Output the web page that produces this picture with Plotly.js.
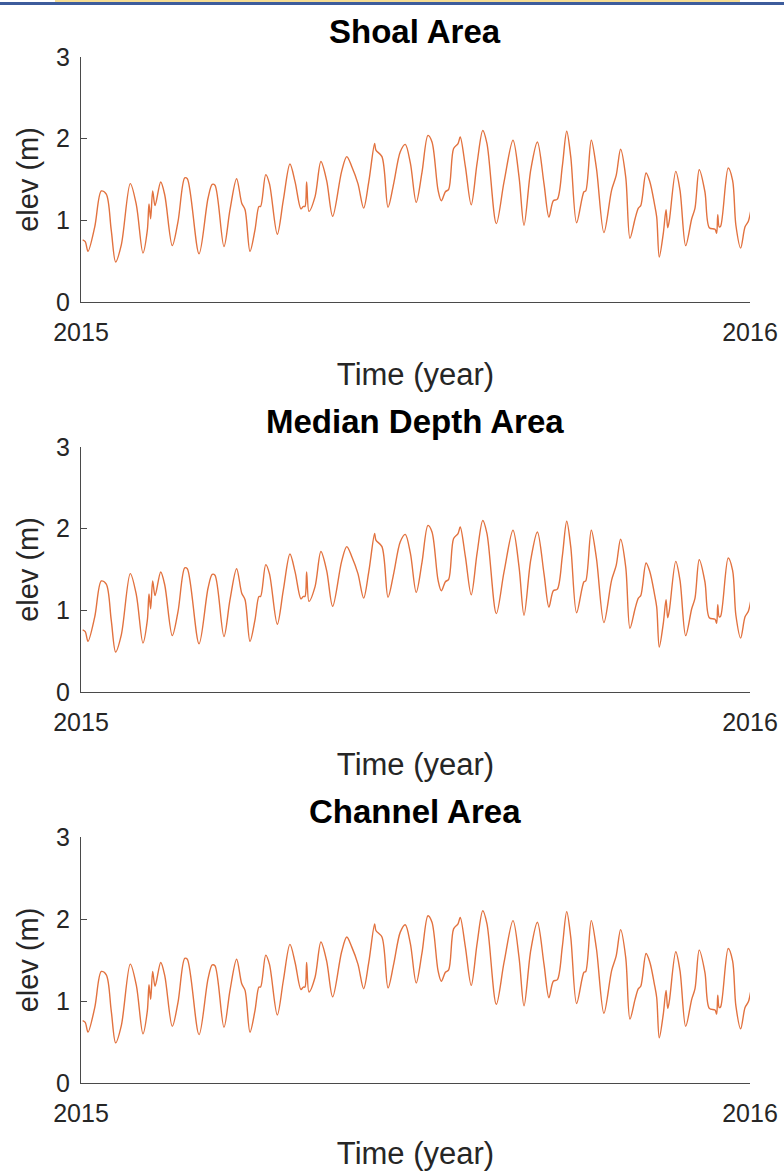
<!DOCTYPE html>
<html>
<head>
<meta charset="utf-8">
<script src="https://cdn.plot.ly/plotly-3.0.1.min.js"></script>
<style>
  html, body { margin: 0; padding: 0; background: #ffffff; }
  #chart { width: 784px; height: 1171px; }
  #topbar { position: absolute; left: 0; top: 0; width: 784px; height: 5px; pointer-events: none; }
  #topbar .y { position: absolute; left: 55px; top: 0; width: 685px; height: 2px; background: #f7dd92; }
  #topbar .b { position: absolute; left: 0; top: 2px; width: 784px; height: 3px; background: #3d5c9c; }
</style>
</head>
<body>
<div id="chart"></div>
<div id="topbar"><div class="y"></div><div class="b"></div></div>
<script>
// Panel titles and axis labels
const panelTitles = ['Shoal Area', 'Median Depth Area', 'Channel Area'];
const xTickVals = [2015, 2016];
const xTickText = ['2015', '2016'];
const yTickVals = [0, 1, 2, 3];

// Day of year (from 2015-01-01)
const days = [0.9, 2.3, 3.8, 7.5, 11.1, 13.8, 16.5, 18.9, 22.0, 26.9, 30.2, 33.8, 36.2, 37.1, 38.0, 39.1, 40.4,
  43.5, 45.7, 49.8, 52.9, 56.6, 58.0, 64.4, 69.3, 71.6, 73.1, 78.0, 81.3, 84.9, 87.7, 89.5, 92.2, 94.9, 97.1,
  98.0, 100.8, 102.8, 107.1, 110.4, 114.0, 116.8, 120.0, 121.3, 122.2, 123.1, 124.4, 127.7, 130.9, 134.0, 137.3,
  142.2, 145.0, 147.7, 151.1, 154.2, 157.0, 160.2, 160.9, 164.2, 167.5, 170.6, 174.2, 176.9, 179.7, 182.9, 186.0,
  189.3, 191.5, 194.8, 196.6, 198.8, 200.6, 203.3, 205.7, 206.9, 209.7, 212.9, 216.1, 219.2, 221.5, 226.6, 230.8,
  235.7, 239.0, 241.7, 245.4, 249.0, 252.6, 255.3, 257.7, 259.9, 262.6, 265.0, 267.2, 270.4, 274.4, 275.4, 278.4,
  281.2, 285.3, 289.5, 292.0, 294.4, 297.2, 299.5, 302.3, 304.1, 305.4, 308.3, 310.4, 312.8, 314.1, 315.5, 317.7,
  319.2, 320.1, 321.0, 324.5, 326.8, 329.9, 333.2, 335.0, 337.3, 340.4, 342.8, 345.9, 346.8, 347.4, 348.2, 349.0,
  353.1, 355.5, 357.3, 359.9, 362.3, 364.1, 365.5];

// Water elevation (m) (the three panels show the same curve)
const shoalElev = [0.76, 0.74, 0.62, 0.92, 1.36, 1.32, 0.88, 0.49, 0.70, 1.45, 1.19, 0.60, 0.88, 1.20, 1.02, 1.36, 1.18,
  1.47, 1.31, 0.69, 0.98, 1.52, 1.51, 0.59, 1.27, 1.44, 1.43, 0.68, 1.13, 1.51, 1.21, 1.13, 0.62, 0.88, 1.17,
  1.17, 1.56, 1.45, 0.83, 1.25, 1.69, 1.47, 1.14, 1.17, 1.17, 1.47, 1.11, 1.29, 1.72, 1.49, 1.05,
  1.60, 1.78, 1.66, 1.45, 1.15, 1.47, 1.94, 1.86, 1.78, 1.16, 1.45, 1.84, 1.93, 1.70, 1.22, 1.58,
  2.04, 1.96, 1.37, 1.24, 1.35, 1.38, 1.88, 1.94, 2.02, 1.66, 1.19, 1.70, 2.10, 1.94, 0.96, 1.47,
  1.98, 1.53, 0.94, 1.62, 1.96, 1.45, 1.04, 1.24, 1.26, 1.66, 2.09, 1.78, 0.97, 1.35, 1.36, 1.98,
  1.64, 0.85, 1.37, 1.55, 1.87, 1.53, 0.78, 1.02, 1.15, 1.18, 1.58, 1.47, 1.21, 1.04, 0.55, 0.84,
  1.13, 0.91, 1.00, 1.60, 1.37, 0.69, 1.02, 1.15, 1.62, 1.35, 0.91, 0.89, 0.84, 1.07, 0.92, 0.93,
  1.64, 1.49, 0.94, 0.66, 0.92, 0.99, 1.13];
const medianElev = shoalElev.slice();
const channelElev = shoalElev.slice();
const seriesList = [shoalElev, medianElev, channelElev];

const years = days.map(d => 2015 + d / 365);

const W = 784, H = 1171;
const xDom = [81 / W, 750 / W];
const panelsPx = [[57, 302], [447, 692], [837, 1083]]; // top, bottom in px
const lineColor = '#e2723f';
const axisColor = '#4a4a4a';
const textColor = '#262626';
const fontFam = 'Liberation Sans, Arial, Helvetica, sans-serif';

const traces = [];
const layout = {
  width: W, height: H,
  margin: {l: 0, r: 0, t: 0, b: 0},
  paper_bgcolor: '#ffffff', plot_bgcolor: '#ffffff',
  showlegend: false,
  font: {family: fontFam, color: textColor},
  annotations: []
};

seriesList.forEach((vals, i) => {
  const n = i === 0 ? '' : String(i + 1);
  traces.push({
    x: years, y: vals, type: 'scatter', mode: 'lines',
    xaxis: 'x' + n, yaxis: 'y' + n,
    line: {color: lineColor, width: 1.4, shape: 'spline', smoothing: 0.9},
    hoverinfo: 'skip'
  });
  const [top, bot] = panelsPx[i];
  const yDom = [1 - bot / H, 1 - top / H];
  layout['xaxis' + n] = {
    domain: xDom, anchor: 'y' + n, range: [2015, 2016],
    tickmode: 'array', tickvals: xTickVals, ticktext: xTickText,
    ticks: 'inside', ticklen: 6, tickcolor: axisColor, tickwidth: 1,
    ticklabelstandoff: 8,
    showline: true, linecolor: axisColor, linewidth: 1, mirror: false,
    showgrid: false, zeroline: false,
    tickfont: {size: 25, color: textColor, family: fontFam},
    title: {text: 'Time (year)', font: {size: 31, color: textColor, family: fontFam}, standoff: 18},
    fixedrange: true
  };
  layout['yaxis' + n] = {
    domain: yDom, anchor: 'x' + n, range: [0, 3],
    tickmode: 'array', tickvals: yTickVals,
    ticks: 'inside', ticklen: 6, tickcolor: axisColor, tickwidth: 1,
    ticklabelstandoff: 5,
    showline: true, linecolor: axisColor, linewidth: 1, mirror: false,
    showgrid: false, zeroline: false,
    tickfont: {size: 25, color: textColor, family: fontFam},
    title: {text: 'elev (m)', font: {size: 29, color: textColor, family: fontFam}, standoff: 8},
    fixedrange: true
  };
  layout.annotations.push({
    text: '<b>' + panelTitles[i] + '</b>',
    xref: 'paper', yref: 'paper',
    x: (xDom[0] + xDom[1]) / 2, y: 1 - (top - 5) / H,
    xanchor: 'center', yanchor: 'bottom', showarrow: false,
    font: {size: 33, color: '#000000', family: fontFam}
  });
});

Plotly.newPlot('chart', traces, layout, {displayModeBar: false, staticPlot: true});
</script>
</body>
</html>
